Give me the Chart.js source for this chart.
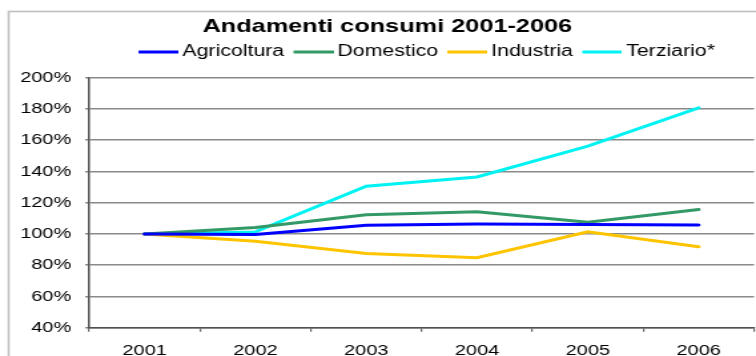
<!DOCTYPE html>
<html>
<head>
<meta charset="utf-8">
<script src="https://cdn.jsdelivr.net/npm/chart.js@4"></script>
<style>
  html, body { margin: 0; padding: 0; background: #fff; overflow: hidden; }
  /* the chart is drawn narrow and stretched sideways */
  #wrap { position: absolute; left: 0; top: 0; width: 568px; height: 356px;
          transform: scaleX(1.331); transform-origin: 0 0; }
</style>
</head>
<body>
<div id="wrap"><canvas id="chart"></canvas></div>
<script>
// Years on the x axis
const years = ['2001', '2002', '2003', '2004', '2005', '2006'];

// Consumption index per sector, 2001 = 100%
const agricoltura = [100, 99.6, 105.6, 106.3, 106.0, 105.7];
const domestico   = [100, 104.1, 112.3, 114.2, 107.5, 115.6];
const industria   = [100, 95.3, 87.4, 84.8, 101.3, 91.8];
const terziario   = [100, 101.3, 130.5, 136.4, 156.2, 180.7];

// Percent axis range
const yMin = 40, yMax = 200, yStep = 20;

const font = "'Liberation Sans', Arial, sans-serif";

// Legend swatch: a short line, pushed right so it sits close to its label
function swatch(color) {
    const c = document.createElement('canvas');
    c.width = 40;
    c.height = 4;
    const g = c.getContext('2d');
    g.fillStyle = color;
    g.fillRect(10, 0.5, 30, 3);
    return c;
}

function series(label, data, color) {
    return {
        label: label,
        data: data,
        borderColor: color,
        backgroundColor: color,
        borderWidth: 3,
        pointRadius: 0,
        pointStyle: swatch(color),
        tension: 0,
        borderCapStyle: 'round'
    };
}

// Frame around the chart, fixed legend height and centring of title / legend
const framePlugin = {
    id: 'frame',
    beforeLayout(chart) {
        const legend = chart.legend;
        if (legend && !legend._fixedFit) {
            const fit = legend.fit;
            legend.fit = function () {
                fit.call(this);
                this.height = 35.6;
            };
            legend._fixedFit = true;
        }
    },
    afterLayout(chart) {
        const t = chart.titleBlock;
        t.left += 7.5; t.right += 7.5;
        const l = chart.legend;
        l.left += 34.6; l.right += 34.6;
    },
    beforeDraw(chart) {
        const ctx = chart.ctx;
        ctx.save();
        ctx.strokeStyle = '#c0c0c0';
        ctx.lineWidth = 1.6;
        ctx.strokeRect(6.5, 11.5, 700, 400);
        ctx.restore();
    }
};

new Chart(document.getElementById('chart'), {
    type: 'line',
    data: {
        labels: years,
        datasets: [
            series('Agricoltura', agricoltura, '#0000ff'),
            series('Domestico', domestico, '#339966'),
            series('Industria', industria, '#ffc400'),
            series('Terziario*', terziario, '#00f2f2')
        ]
    },
    options: {
        responsive: true,
        maintainAspectRatio: false,
        animation: false,
        layout: { padding: { left: 0, right: 1, top: 0, bottom: 0 } },
        plugins: {
            title: {
                display: true,
                text: 'Andamenti consumi 2001-2006',
                color: '#000',
                font: { family: font, size: 19, weight: 'bold', lineHeight: 1 },
                padding: { top: 17, bottom: 6 }
            },
            legend: {
                display: true,
                position: 'top',
                labels: {
                    color: '#000',
                    font: { family: font, size: 16 },
                    usePointStyle: true,
                    pointStyleWidth: 30,
                    boxHeight: 4,
                    padding: 2
                }
            },
            tooltip: { enabled: false }
        },
        scales: {
            x: {
                offset: true,
                grid: {
                    offset: true,
                    drawOnChartArea: false,
                    drawTicks: true,
                    tickLength: 4,
                    color: '#666',
                    lineWidth: 1.2
                },
                border: { display: true, color: '#505050', width: 1.5 },
                ticks: { color: '#000', font: { family: font, size: 15 }, padding: 10, maxRotation: 0 },
                afterFit(scale) { scale.height = 28.3; }
            },
            y: {
                min: yMin,
                max: yMax,
                grid: { color: '#8a8a8a', lineWidth: 1.5, tickLength: 3 },
                border: { display: true, color: '#505050', width: 1.5 },
                ticks: {
                    stepSize: yStep,
                    color: '#000',
                    font: { family: font, size: 15 },
                    padding: 10.5,
                    callback: v => v + '%'
                },
                afterFit(scale) { scale.width = 67; }
            }
        }
    },
    plugins: [framePlugin]
});
</script>
</body>
</html>
